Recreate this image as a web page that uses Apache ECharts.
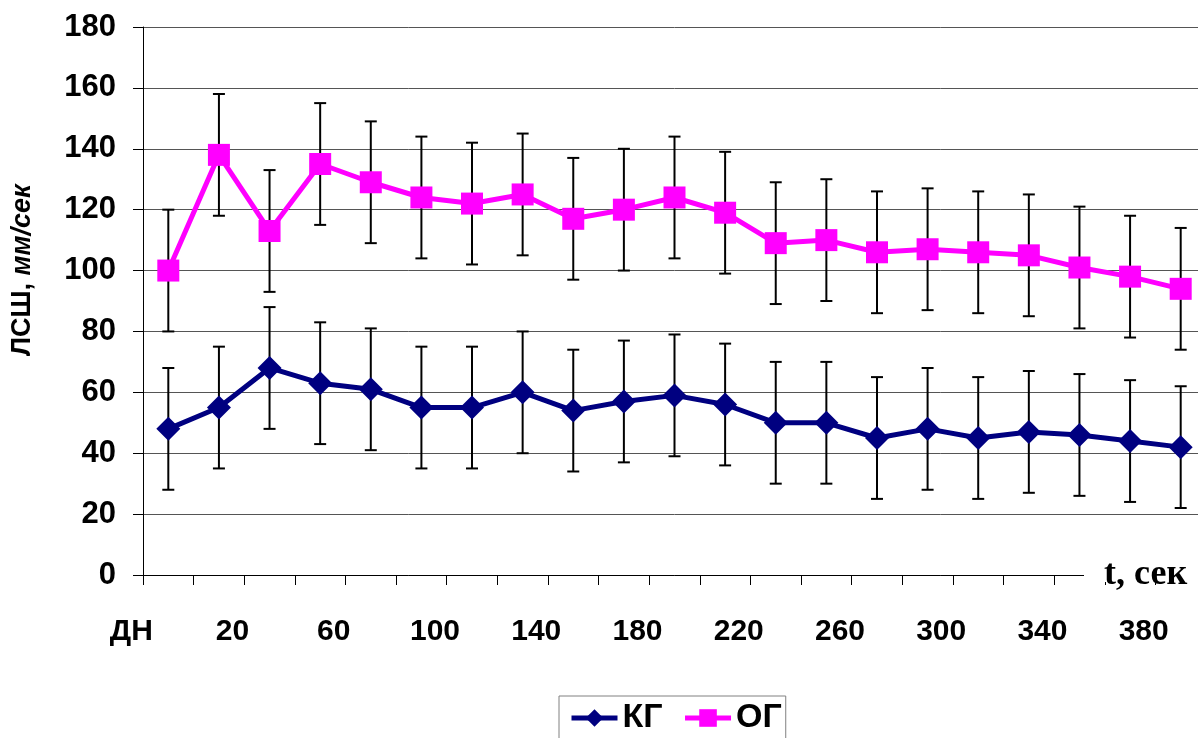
<!DOCTYPE html>
<html>
<head>
<meta charset="utf-8">
<script src="https://cdn.jsdelivr.net/npm/echarts@6/dist/echarts.min.js"></script>
<style>
  html, body { margin: 0; padding: 0; background: #fff; overflow: hidden; }
  #grafico { width: 1220px; height: 738px; }
</style>
</head>
<body>
<div id="grafico"></div>
<script>
// Datos
const categorias = ['ДН', '0', '20', '40', '60', '80', '100', '120', '140', '160', '180',
  '200', '220', '240', '260', '280', '300', '320', '340', '360', '380'];
const valoresKG = [48, 55, 68, 63, 61, 55, 55, 60, 54, 57, 59, 56, 50, 50, 45, 48, 45, 47, 46, 44, 42];
const valoresOG = [100, 138, 113, 135, 129, 124, 122, 125, 117, 120, 124, 119, 109, 110, 106, 107, 106, 105, 101, 98, 94];
const errorKG = [20, 20, 20, 20, 20, 20, 20, 20, 20, 20, 20, 20, 20, 20, 20, 20, 20, 20, 20, 20, 20];
const errorOG = [20, 20, 20, 20, 20, 20, 20, 20, 20, 20, 20, 20, 20, 20, 20, 20, 20, 20, 20, 20, 20];

const fuente = 'Liberation Sans, Arial, sans-serif';

// Barras de error: [indice, minimo, maximo]
function datosError(valores, errores) {
  return valores.map((v, i) => [i, v - errores[i], v + errores[i]]);
}

function dibujarError(params, api) {
  const i = api.value(0);
  const abajo = api.coord([i, api.value(1)]);
  const arriba = api.coord([i, api.value(2)]);
  const w = 6;
  const estilo = { stroke: '#000', lineWidth: 2 };
  return {
    type: 'group',
    children: [
      { type: 'line', shape: { x1: abajo[0], y1: abajo[1], x2: arriba[0], y2: arriba[1] }, style: estilo },
      { type: 'line', shape: { x1: arriba[0] - w, y1: arriba[1], x2: arriba[0] + w, y2: arriba[1] }, style: estilo },
      { type: 'line', shape: { x1: abajo[0] - w, y1: abajo[1], x2: abajo[0] + w, y2: abajo[1] }, style: estilo }
    ]
  };
}

const grafico = echarts.init(document.getElementById('grafico'));

grafico.setOption({
  animation: false,
  backgroundColor: '#fff',
  grid: { left: 143, top: 27, width: 1063, height: 548 },
  legend: {
    top: 696,
    left: 559,
    data: [
      { name: 'КГ', lineStyle: { width: 5 } },
      { name: 'ОГ', lineStyle: { width: 5 } }
    ],
    borderColor: '#808080',
    borderWidth: 1,
    padding: [5, 4, 20, 10],
    itemWidth: 46,
    itemHeight: 22,
    itemGap: 20,
    textStyle: { fontFamily: fuente, fontWeight: 'bold', fontSize: 34, color: '#000' }
  },
  xAxis: {
    type: 'category',
    data: categorias,
    boundaryGap: true,
    axisLine: { lineStyle: { color: '#000', width: 1 } },
    axisTick: { show: true, interval: 0, length: 10, lineStyle: { color: '#000' } },
    axisLabel: {
      interval: 1,
      margin: 42,
      padding: [0, 74, 0, 0],
      fontFamily: fuente,
      fontWeight: 'bold',
      fontSize: 30,
      color: '#000'
    },
    splitLine: { show: false }
  },
  yAxis: {
    type: 'value',
    min: 0,
    max: 180,
    interval: 20,
    axisLine: { show: true, lineStyle: { color: '#000', width: 1 } },
    axisTick: { show: true, length: 10, lineStyle: { color: '#000' } },
    axisLabel: {
      margin: 27,
      fontFamily: fuente,
      fontWeight: 'bold',
      fontSize: 31,
      color: '#000'
    },
    splitLine: { lineStyle: { color: '#555', width: 1 } }
  },
  series: [
    {
      name: 'errKG',
      type: 'custom',
      renderItem: dibujarError,
      data: datosError(valoresKG, errorKG),
      encode: { x: 0, y: [1, 2] },
      z: 1,
      silent: true
    },
    {
      name: 'errOG',
      type: 'custom',
      renderItem: dibujarError,
      data: datosError(valoresOG, errorOG),
      encode: { x: 0, y: [1, 2] },
      z: 1,
      silent: true
    },
    {
      name: 'КГ',
      type: 'line',
      data: valoresKG,
      symbol: 'diamond',
      symbolSize: 24,
      itemStyle: { color: '#000080' },
      lineStyle: { color: '#000080', width: 5 },
      z: 3
    },
    {
      name: 'ОГ',
      type: 'line',
      data: valoresOG,
      symbol: 'rect',
      symbolSize: 22,
      itemStyle: { color: '#FF00FF' },
      lineStyle: { color: '#FF00FF', width: 5 },
      z: 3
    }
  ],
  graphic: [
    {
      type: 'rect',
      left: 1084,
      top: 568,
      shape: { width: 140, height: 14 },
      style: { fill: '#fff' },
      z: 100
    },
    {
      type: 'text',
      left: 1104,
      top: 557,
      style: {
        text: 't, сек',
        fontFamily: 'Liberation Serif, Times New Roman, serif',
        fontWeight: 'bold',
        fontSize: 36,
        fill: '#000'
      },
      z: 101
    },
    {
      type: 'text',
      x: 9,
      y: 356,
      rotation: Math.PI / 2,
      style: {
        text: '{a|ЛСШ, }{b|мм/сек}',
        rich: {
          a: { fontFamily: fuente, fontWeight: 'bold', fontSize: 27, fill: '#000' },
          b: { fontFamily: fuente, fontWeight: 'bold', fontStyle: 'italic', fontSize: 27, fill: '#000' }
        }
      },
      z: 100
    }
  ]
});
</script>
</body>
</html>
